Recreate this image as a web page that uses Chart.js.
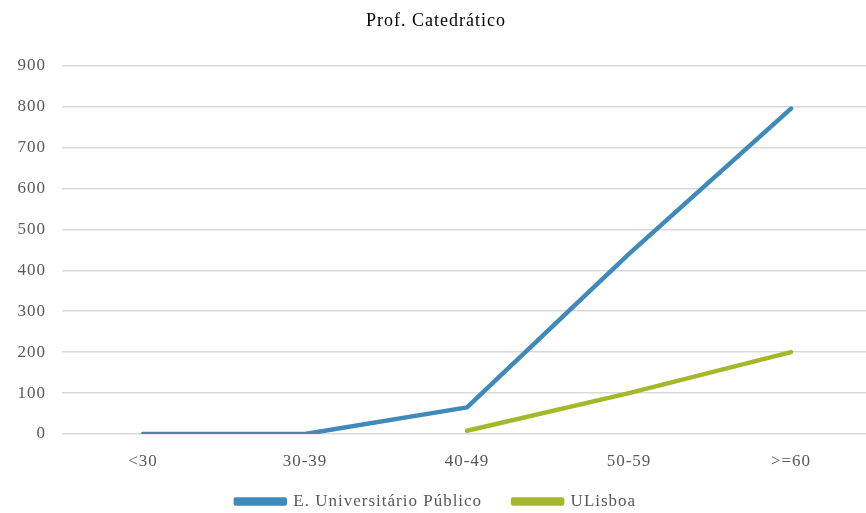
<!DOCTYPE html>
<html>
<head>
<meta charset="utf-8">
<script src="https://cdn.jsdelivr.net/npm/chart.js@4/dist/chart.umd.min.js"></script>
<style>
  html, body { margin: 0; padding: 0; background: #fff; overflow: hidden; }
  #wrap { width: 890px; height: 520px; }
</style>
</head>
<body>
<div id="wrap"><canvas id="myChart" width="890" height="520"></canvas></div>
<script>
var categories = ["<30", "30-39", "40-49", "50-59", ">=60"];
var publicoValues = [0, 0, 65, 440, 795];
var ulisboaValues = [null, null, 8, 100, 200];
var yTicks = [0, 100, 200, 300, 400, 500, 600, 700, 800, 900];

var textColor = "#595959";
var serif = "'Liberation Serif', 'Times New Roman', serif";

// excel-like wider text
var spacingPlugin = {
  id: "spacing",
  beforeLayout: function (chart) { chart.ctx.letterSpacing = "1px"; },
  beforeDraw: function (chart) { chart.ctx.letterSpacing = "1px"; },
};

var ctx = document.getElementById("myChart").getContext("2d");
var myChart = new Chart(ctx, {
  type: "line",
  plugins: [spacingPlugin],
  data: {
    labels: categories,
    datasets: [
      {
        label: "E. Universitário Público",
        data: publicoValues,
        borderColor: "#3f8abb",
        backgroundColor: "#3f8abb",
        borderWidth: 4.5,
        pointRadius: 0,
        borderCapStyle: "round",
        borderJoinStyle: "round",
        fill: false,
        tension: 0,
      },
      {
        label: "ULisboa",
        data: ulisboaValues,
        borderColor: "#a5b829",
        backgroundColor: "#a5b829",
        borderWidth: 4.5,
        pointRadius: 0,
        borderCapStyle: "round",
        borderJoinStyle: "round",
        fill: false,
        tension: 0,
      },
    ],
  },
  options: {
    responsive: false,
    animation: false,
    layout: { padding: { left: 0, right: 18, top: 4, bottom: 0 } },
    plugins: {
      title: {
        display: true,
        text: "Prof. Catedrático",
        color: "#000",
        font: { family: serif, size: 18, weight: "normal" },
        padding: { top: 6, bottom: 34 },
      },
      legend: {
        position: "bottom",
        labels: {
          color: textColor,
          font: { family: serif, size: 17 },
          boxWidth: 49,
          boxHeight: 4,
          padding: 31,
        },
      },
      tooltip: { enabled: false },
    },
    scales: {
      x: {
        offset: true,
        afterFit: function (scale) {
          scale.height = 28;
        },
        grid: { display: false, drawTicks: false },
        border: { display: false },
        ticks: {
          color: textColor,
          font: { family: serif, size: 17 },
          // mirror keeps the labels from being clipped to the short axis box
          mirror: true,
          padding: -38,
          maxRotation: 0,
        },
      },
      y: {
        min: 0,
        max: 900,
        afterFit: function (scale) {
          scale.width = 62;
        },
        afterBuildTicks: function (scale) {
          scale.ticks = yTicks.map(function (v) { return { value: v }; });
        },
        grid: { color: "#d9d9d9", lineWidth: 1.5, drawTicks: false },
        border: { display: false },
        ticks: {
          color: textColor,
          font: { family: serif, size: 17 },
          padding: 16,
        },
      },
    },
  },
});
</script>
</body>
</html>
